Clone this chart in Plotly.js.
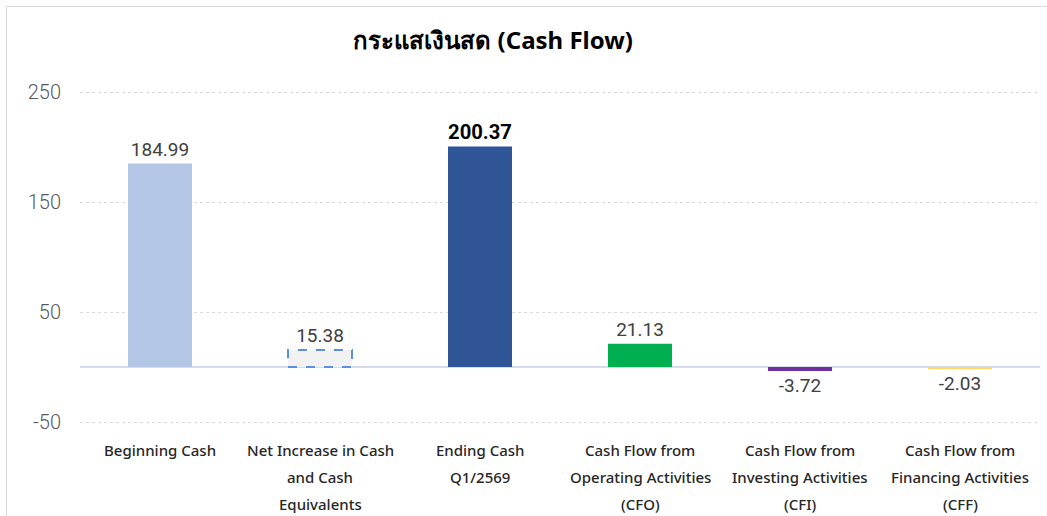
<!DOCTYPE html>
<html><head><meta charset="utf-8">
<script src="https://cdn.plot.ly/plotly-3.0.1.min.js"></script>
<style>
html,body{margin:0;padding:0;background:#fff;}
#wrap{position:absolute;left:6px;top:6px;width:1047px;height:516px;border-left:1px solid #d9d9d9;border-top:1px solid #d9d9d9;}
#chart{position:absolute;left:-7px;top:-7px;width:1047px;height:516px;}
</style></head>
<body><div id="wrap"><div id="chart"></div></div>
<script>
const categories = ["Beginning Cash", "Net Increase in Cash\nand Cash\nEquivalents", "Ending Cash\nQ1/2569", "Cash Flow from\nOperating Activities\n(CFO)", "Cash Flow from\nInvesting Activities\n(CFI)", "Cash Flow from\nFinancing Activities\n(CFF)"];
const values = [184.99, 15.38, 200.37, 21.13, -3.72, -2.03];
const labels = ["184.99", "15.38", "200.37", "21.13", "-3.72", "-2.03"];
const colors = ["#B4C7E7", "#F2F2F2", "#2F5597", "#00B050", "#7030A0", "#FFD966"];
const yTicks = [-50, 50, 150, 250];

const keys = categories.map((c, i) => "c" + i);
const FONT = "'Noto Sans', 'DejaVu Sans', sans-serif";
const NUMFONT = "'Roboto', 'Noto Sans', sans-serif";
const textSizes = values.map((v, i) => i === 2 ? 26 : 19);
const textColors = values.map((v, i) => i === 2 ? "#000000" : "#404040");

const trace = {
  type: "bar",
  x: keys,
  y: values,
  marker: {color: colors, line: {width: 0}},
  text: labels,
  textposition: "outside",
  cliponaxis: false,
  textfont: {family: NUMFONT, size: textSizes, color: textColors, weight: values.map((v,i)=> i===2 ? 700 : 400)},
  hoverinfo: "x+y"
};

const annotations = [];
categories.forEach((c, i) => {
  c.split("\n").forEach((line, j) => {
    annotations.push({
      x: keys[i], xref: "x", y: 0, yref: "paper",
      yanchor: "middle", yshift: -17 - j * 27,
      text: line, showarrow: false,
      font: {family: FONT, size: 15, color: "#262626", weight: 500}
    });
  });
});

const shapes = [{
  type: "rect", xref: "x", yref: "y",
  x0: 1 - 0.2, x1: 1 + 0.2, y0: 0, y1: values[1],
  line: {color: "#5B8FE0", width: 2, dash: "dash"},
  fillcolor: "rgba(0,0,0,0)"
}];

const layout = {
  width: 1047, height: 516,
  margin: {l: 80, r: 7, t: 81, b: 83},
  paper_bgcolor: "rgba(0,0,0,0)",
  plot_bgcolor: "#ffffff",
  title: {text: "<b>กระแสเงินสด (Cash Flow)</b>", x: 0.471, xanchor: "center", y: 0.922, yanchor: "middle",
          font: {family: FONT, size: 24, color: "#000000"}},
  bargap: 0.6,
  showlegend: false,
  xaxis: {type: "category", showticklabels: false, showgrid: false, zeroline: false, showline: false, ticks: ""},
  yaxis: {range: [-60, 260], tickvals: yTicks, ticktext: yTicks.map(String),
          showgrid: true, gridcolor: "#D9D9D9", griddash: "dot", gridwidth: 1,
          zeroline: true, zerolinecolor: "#D6DCE8", zerolinewidth: 1.5,
          showline: false, ticks: "", ticklabelstandoff: 18,
          tickfont: {family: NUMFONT, size: 20, color: "#595959", weight: 300}},
  annotations: annotations,
  shapes: shapes
};

Plotly.newPlot("chart", [trace], layout, {displayModeBar: false, staticPlot: true});
</script></body></html>
